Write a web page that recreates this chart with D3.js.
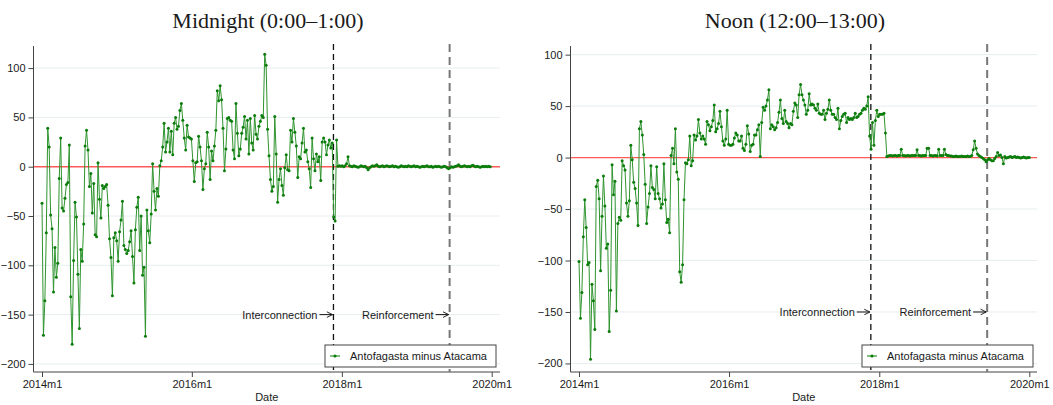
<!DOCTYPE html>
<html lang="en">
<head>
<meta charset="UTF-8">
<title>Antofagasta minus Atacama</title>
<script src="https://d3js.org/d3.v7.min.js"></script>
<style>
    body { margin: 0; background: #fff; }
    svg text { font-family: "Liberation Sans", Arial, Helvetica, sans-serif; fill: #1a1a1a; }
    .title { font-family: "Liberation Serif", "Times New Roman", serif !important; font-size: 22px; }
    .tick-label { font-size: 11px; }
    .grid { stroke: #e6eef0; stroke-width: 1; }
    .axis-line { stroke: #444; stroke-width: 1; fill: none; }
    .zero { stroke: #ff5a5a; stroke-width: 1.4; }
    .series { fill: none; stroke: #2f942f; stroke-width: 1; }
    .dot { fill: #0b7d0b; }
</style>
</head>
<body>
<svg id="chart" width="1053" height="405"></svg>
<script>
// weekly price gap, first week of 2014 onward
const midnight = [
    -37,-171,-136,-67,39,20,-49,-63,-127,-82,
    -112,-98,-12,29,-42,-45,-32,-18,-16,22,
    -132,-180,-95,-36,-51,-109,-164,-84,-96,-58,
    21,37,17,-20,-7,-47,-17,-69,-71,4,
    -33,-52,-19,-22,-20,-18,-39,-73,-92,-131,
    -72,-67,-75,-96,-66,-54,-35,-80,-84,-88,
    -85,-76,-65,-91,-118,-64,-41,-31,-85,-50,
    -110,-102,-172,-44,-65,-77,-48,3,-25,-44,
    -22,-30,1,6,20,44,15,25,39,15,
    36,12,44,50,38,41,57,64,47,29,
    17,42,30,29,28,6,-15,4,5,31,
    20,6,-23,-2,3,35,20,-13,16,6,
    21,37,77,67,82,68,39,-4,18,49,
    50,47,46,17,8,
    64,34,11,18,34,40,51,28,47,13,
    49,24,17,52,33,28,41,46,52,50,
    114,103,38,11,-13,-25,-20,51,13,-36,
    -13,-2,-19,-29,-1,12,-3,-4,37,25,
    49,35,21,-11,10,8,24,39,15,17,
    5,-2,-21,29,8,-4,13,5,10,-14,
    25,29,25,12,22,27,19,24,-51,-55,
    27,
    0.5,1,0.5,1,0,1,3,10,1,0.5,
    0,1,0.5,0,-0.5,0,1,0.5,0,0.5,
    -1,-3,-1,0,1,0.5,1,2,0.5,0,
    0.5,1,0,0.5,1,0.5,0,0.5,1,0,
    0.5,0,-0.5,0,1,0.5,0,0.5,0,1,
    0.5,0,0.5,1,0,0.5,0,-0.5,0,0.5,
    0,0.5,1,0,0,0.5,-0.5,0,0.5,0,
    0.5,0,-0.5,0,0.5,0,-1,-2,-1,0,
    -0.5,0,0.5,1,2,0.5,0,0.5,1,0.5,
    0,0.5,0,1,1.5,0.5,0,0.5,0,-0.5,
    0,0.5,0,0.5,0,0.5,0
];

const noon = [
    -101,-156,-131,-77,-41,-68,-104,-102,-196,-123,
    -139,-167,-28,-22,-40,-110,-57,-18,-47,-88,
    -84,-169,-129,-7,-36,-23,-149,-64,-58,-61,
    -3,-8,-12,-44,-57,-42,12,-2,-24,-30,
    -44,-66,28,35,22,3,-26,-64,-48,-35,
    -8,-29,-31,-40,-9,-35,-40,-49,-45,-6,
    -41,-63,-60,-73,2,9,-6,28,-14,-21,
    -111,-121,-104,-41,
    -5,-6,-2,21,-8,-3,22,17,21,37,
    24,18,21,18,13,35,32,26,30,36,
    51,25,28,33,45,30,16,12,18,46,
    13,12,12,13,19,24,22,16,
    16,21,9,7,13,31,23,6,12,13,
    22,22,27,32,1,34,49,46,50,56,
    66,28,32,30,27,29,34,44,56,38,
    33,46,35,33,29,33,32,45,53,51,
    39,61,71,61,56,51,42,46,62,51,
    52,51,48,46,52,43,42,42,46,37,
    43,47,56,46,42,42,39,37,48,28,
    36,40,42,43,34,39,37,38,37,39,
    43,39,40,42,43,46,48,47,50,59,
    21,8,34,12,36,46,40,42,42,42,
    43,24,
    1,1.5,2,2,1.5,2,2,1.5,2,2,
    8,2,2,1.5,2,2,1.5,2,2,2,
    2,7.5,2,2,1.5,2,2,2,9,9,
    2,2,1.5,2,2,1.5,8,2,2,2,
    8,3,2,2,1.5,1.5,1,1,1.5,1,
    1,1,1.5,1,1,1,1.5,1,1,2,
    7.5,16,9,3.6,2,1,0,-1,-2,-4,
    -2,-1,-2,-3,-3,-1,1,5,2,2.5,
    0,-6,1,-0.5,0,0.5,1,0,0.5,1,
    0,0.5,0,-0.5,0,0.5,0,-0.5,0,0
];

const yTicks = [100, 50, 0, -50, -100, -150, -200];
const xTicks = ["2014-01-01", "2016-01-01", "2018-01-01", "2020-01-01"];
const xTickLabels = ["2014m1", "2016m1", "2018m1", "2020m1"];
const eventLabels = ["Interconnection", "Reinforcement"];
const eventDates = ["2017-11-21", "2019-06-10"];
const titles = ["Midnight (0:00\u20131:00)", "Noon (12:00\u201313:00)"];
const legendLabel = "Antofagasta minus Atacama";

const parse = d3.timeParse("%Y-%m-%d");
const firstWeek = parse("2014-01-01");

const panels = [
    {data: midnight, axisX: 33.5, right: 500, top: 46, bottom: 372, x0: 42, x1: 491.7, yDomain: [-208.2, 122.4], cx: 268},
    {data: noon, axisX: 570.5, right: 1037, top: 46, bottom: 372, x0: 579, x1: 1029.3, yDomain: [-208.3, 108.4], cx: 795}
];

const svg = d3.select("#chart");

// arrow head
svg.append("defs").append("marker")
    .attr("id", "arrow")
    .attr("viewBox", "0 0 10 10")
    .attr("refX", 9).attr("refY", 5)
    .attr("markerWidth", 7).attr("markerHeight", 7)
    .attr("orient", "auto")
    .append("path")
    .attr("d", "M1,1 L9,5 L1,9")
    .attr("fill", "none")
    .attr("stroke", "#111")
    .attr("stroke-width", 1.3);

panels.forEach((p, pi) => {
    const g = svg.append("g");

    const x = d3.scaleTime()
        .domain([parse(xTicks[0]), parse(xTicks[xTicks.length - 1])])
        .range([p.x0, p.x1]);
    const y = d3.scaleLinear()
        .domain(p.yDomain)
        .range([p.bottom, p.top]);

    const points = p.data.map((v, i) => ({date: d3.timeDay.offset(firstWeek, 7 * i), value: v}));

    // title
    g.append("text")
        .attr("class", "title")
        .attr("x", p.cx)
        .attr("y", 28)
        .attr("text-anchor", "middle")
        .text(titles[pi]);

    // gridlines
    g.selectAll(".grid")
        .data(yTicks)
        .enter()
        .append("line")
        .attr("class", "grid")
        .attr("x1", p.axisX).attr("x2", p.right)
        .attr("y1", d => y(d)).attr("y2", d => y(d));

    // y axis
    const yAxis = d3.axisLeft(y).tickValues(yTicks).tickSize(5).tickPadding(3).tickSizeOuter(0);
    const ya = g.append("g")
        .attr("transform", `translate(${p.axisX},0)`)
        .call(yAxis);
    ya.select(".domain").attr("stroke", "#444").attr("d", `M0,${p.top}V${p.bottom}`);
    ya.selectAll(".tick line").attr("stroke", "#444");
    ya.selectAll(".tick text").attr("class", "tick-label").attr("fill", "#1a1a1a")
        .style("font-size", "11px");

    // x axis
    const xAxis = d3.axisBottom(x).tickValues(xTicks.map(parse))
        .tickFormat((d, i) => xTickLabels[i]).tickSize(5).tickPadding(3).tickSizeOuter(0);
    const xa = g.append("g")
        .attr("transform", `translate(0,${p.bottom})`)
        .call(xAxis);
    xa.select(".domain").attr("stroke", "#444").attr("d", `M${p.axisX},0H${p.right}`);
    xa.selectAll(".tick line").attr("stroke", "#444");
    xa.selectAll(".tick text").attr("fill", "#1a1a1a").style("font-size", "11px");

    g.append("text")
        .attr("x", (p.axisX + p.right) / 2)
        .attr("y", 401)
        .attr("text-anchor", "middle")
        .style("font-size", "11px")
        .text("Date");

    // zero reference
    g.append("line")
        .attr("class", "zero")
        .attr("x1", p.axisX + 0.5).attr("x2", p.right)
        .attr("y1", y(0)).attr("y2", y(0));

    // event lines
    eventDates.forEach((ds, ei) => {
        const ex = x(parse(ds));
        g.append("line")
            .attr("x1", ex).attr("x2", ex)
            .attr("y1", p.top - 2).attr("y2", p.bottom)
            .attr("stroke", ei === 0 ? "#111" : "#777")
            .attr("stroke-width", ei === 0 ? 1.3 : 2)
            .attr("stroke-dasharray", ei === 0 ? "6,4" : "8,5");
        const ay = y(-150);
        g.append("line")
            .attr("x1", ex - 14).attr("x2", ex - 1)
            .attr("y1", ay).attr("y2", ay)
            .attr("stroke", "#111").attr("stroke-width", 1)
            .attr("marker-end", "url(#arrow)");
        g.append("text")
            .attr("x", ex - 16)
            .attr("y", ay + 4)
            .attr("text-anchor", "end")
            .style("font-size", "11px")
            .text(eventLabels[ei]);
    });

    // series
    const line = d3.line().x(d => x(d.date)).y(d => y(d.value));
    g.append("path")
        .datum(points)
        .attr("class", "series")
        .attr("d", line);
    g.selectAll(".dot")
        .data(points)
        .enter()
        .append("circle")
        .attr("class", "dot")
        .attr("cx", d => x(d.date))
        .attr("cy", d => y(d.value))
        .attr("r", 1.5);

    // legend
    const lw = 171, lh = 22;
    const lx = p.right - 4 - lw, ly = 345;
    const lg = g.append("g").attr("transform", `translate(${lx},${ly})`);
    lg.append("rect")
        .attr("width", lw).attr("height", lh)
        .attr("fill", "#fff").attr("stroke", "#444").attr("stroke-width", 1);
    lg.append("line")
        .attr("x1", 5).attr("x2", 15).attr("y1", lh / 2).attr("y2", lh / 2)
        .attr("stroke", "#2f942f").attr("stroke-width", 1.2);
    lg.append("circle").attr("cx", 10).attr("cy", lh / 2).attr("r", 1.6).attr("fill", "#0b7d0b");
    lg.append("text")
        .attr("x", 25).attr("y", lh / 2 + 4)
        .style("font-size", "11px")
        .text(legendLabel);
});
</script>
</body>
</html>
